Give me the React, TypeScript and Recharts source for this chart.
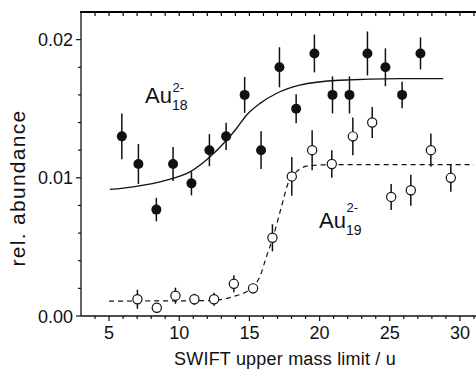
import { ComposedChart, Scatter, Line, XAxis, YAxis, ErrorBar } from 'recharts'

const FONT = "Arial, 'Liberation Sans', Helvetica, sans-serif"
const INK = '#111'

// plot box (chart width 492, y-axis width 81, right margin 4, top margin 12)
const PLOT_TOP = 12
const PLOT_LEFT = 81
const PLOT_RIGHT = 488
const X_MIN = 3
const X_MAX = 32

// Au18(2-) measured points
const au18X = [5.91, 7.09, 8.37, 9.56, 10.87, 12.15, 13.34, 14.66, 15.83, 17.14, 18.33, 19.63, 20.92, 22.13, 23.41, 24.69, 25.88, 27.19]
const au18Y = [0.013, 0.011, 0.0077, 0.011, 0.0096, 0.012, 0.013, 0.016, 0.012, 0.018, 0.015, 0.019, 0.016, 0.016, 0.019, 0.018, 0.016, 0.019]
const au18Err = [0.00166, 0.00145, 0.00085, 0.00123, 0.00087, 0.00116, 0.00099, 0.0013, 0.00137, 0.00145, 0.00105, 0.00137, 0.00134, 0.00134, 0.00159, 0.00137, 0.00096, 0.00116]

// Au19(2-) measured points
const au19X = [7.02, 8.4, 9.73, 11.08, 12.48, 13.89, 15.26, 16.64, 18.02, 19.47, 20.87, 22.37, 23.75, 25.1, 26.5, 27.93, 29.35]
const au19Y = [0.00121, 0.0006, 0.00147, 0.00121, 0.00121, 0.00233, 0.002, 0.00566, 0.0101, 0.012, 0.011, 0.013, 0.014, 0.00862, 0.0091, 0.012, 0.01]
const au19Err = [0.00069, 0.0003, 0.00058, 0.0004, 0.00047, 0.00061, 0.00036, 0.00098, 0.0014, 0.00145, 0.001, 0.00137, 0.00112, 0.00094, 0.00112, 0.0012, 0.001]

// fit curves
const fit18X = [5.05, 6.73, 9.1, 10.76, 12.18, 13.37, 14.08, 14.79, 15.73, 16.92, 18.58, 21.43, 25.7, 28.81]
const fit18Y = [0.00916, 0.00935, 0.00983, 0.01043, 0.01151, 0.01272, 0.01357, 0.01453, 0.01537, 0.0161, 0.0167, 0.01706, 0.01718, 0.01718]
const fit19X = [5.0, 11.96, 13.83, 15.26, 15.74, 16.21, 16.68, 17.28, 17.75, 18.34, 19.29, 20.95, 31.0]
const fit19Y = [0.00108, 0.00111, 0.0014, 0.00212, 0.00284, 0.00429, 0.00569, 0.0079, 0.00959, 0.01043, 0.01088, 0.01095, 0.01095]

// ticks
const xMajor = [5, 10, 15, 20, 25, 30]
const xMinor = [4, 5, 6, 7, 8, 9, 10, 11, 12, 13, 14, 15, 16, 17, 18, 19, 20, 21, 22, 23, 24, 25, 26, 27, 28, 29, 30, 31]
const yTicks = [0, 0.002, 0.004, 0.006, 0.008, 0.01, 0.012, 0.014, 0.016, 0.018, 0.02]
const yMajor = [0, 0.01, 0.02]
const yMax = 0.022

const au18 = au18X.map((x, i) => ({ x, y: au18Y[i], err: au18Err[i] }))
const au19 = au19X.map((x, i) => ({ x, y: au19Y[i], err: au19Err[i] }))
const fit18 = fit18X.map((x, i) => ({ x, y: fit18Y[i] }))
const fit19 = fit19X.map((x, i) => ({ x, y: fit19Y[i] }))

// same linear map as the chart's x axis, only for the top frame ticks
const topTickX = (v: number) => PLOT_LEFT + ((v - X_MIN) * (PLOT_RIGHT - PLOT_LEFT)) / (X_MAX - X_MIN)

const BottomTick = (props: any) => {
  const { x, y, payload } = props
  const major = xMajor.includes(payload.value)
  return (
    <g>
      <line x1={x} x2={x} y1={y} y2={y + (major ? 5 : 3)} stroke={INK} strokeWidth={1.2} />
      {major && (
        <text x={x} y={y + 23} textAnchor="middle" fontSize={18} fontFamily={FONT} fill={INK}>
          {payload.value}
        </text>
      )}
    </g>
  )
}

const LeftTick = (props: any) => {
  const { x, y, payload } = props
  const major = yMajor.some(v => Math.abs(v - payload.value) < 1e-9)
  return (
    <g>
      <line x1={x - (major ? 5 : 3)} x2={x} y1={y} y2={y} stroke={INK} strokeWidth={1.2} />
      {major && (
        <text x={x - 8} y={y + 6.5} textAnchor="end" fontSize={18} fontFamily={FONT} fill={INK}>
          {payload.value.toFixed(2)}
        </text>
      )}
    </g>
  )
}

const FilledDot = (props: any) => <circle cx={props.cx} cy={props.cy} r={5} fill={INK} />
const OpenDot = (props: any) => (
  <circle cx={props.cx} cy={props.cy} r={4.6} fill="#fff" stroke={INK} strokeWidth={1.2} />
)

export default function App() {
  return (
    <div style={{ position: 'absolute', left: 0, top: 0, width: 476, height: 370, overflow: 'hidden', background: '#fff' }}>
      <ComposedChart width={492} height={370} margin={{ top: PLOT_TOP, right: 4, bottom: 0, left: 0 }}>
        <XAxis
          dataKey="x"
          type="number"
          domain={[X_MIN, X_MAX]}
          allowDataOverflow
          ticks={xMinor}
          interval={0}
          height={54}
          tickSize={0}
          tickMargin={0}
          tickLine={false}
          tick={BottomTick}
          axisLine={{ stroke: INK, strokeWidth: 1.3 }}
        />
        <YAxis
          type="number"
          domain={[0, yMax]}
          allowDataOverflow
          ticks={yTicks}
          interval={0}
          width={PLOT_LEFT}
          tickSize={0}
          tickMargin={0}
          tickLine={false}
          tick={LeftTick}
          axisLine={{ stroke: INK, strokeWidth: 1.3 }}
        />
        {/* fit curves */}
        <Line data={fit18} dataKey="y" type="monotone" stroke={INK} strokeWidth={1.3} dot={false} isAnimationActive={false} />
        <Line
          data={fit19}
          dataKey="y"
          type="monotone"
          stroke={INK}
          strokeWidth={1.2}
          strokeDasharray="5 4"
          dot={false}
          isAnimationActive={false}
        />
        <Scatter data={au18} dataKey="y" shape={FilledDot} isAnimationActive={false}>
          <ErrorBar dataKey="err" direction="y" width={0} stroke={INK} strokeWidth={1.5} />
        </Scatter>
        <Scatter data={au19} dataKey="y" shape={OpenDot} isAnimationActive={false}>
          <ErrorBar dataKey="err" direction="y" width={0} stroke={INK} strokeWidth={1.5} />
        </Scatter>
      </ComposedChart>
      <svg width={476} height={370} style={{ position: 'absolute', left: 0, top: 0, pointerEvents: 'none' }}>
        {/* top frame with inward ticks */}
        <rect x={PLOT_LEFT - 1} y={PLOT_TOP - 1} width={476 - PLOT_LEFT + 1} height={2} fill="#000" />
        {xMinor.map(v => (
          <line key={v} x1={topTickX(v)} x2={topTickX(v)} y1={PLOT_TOP} y2={PLOT_TOP + 4} stroke="#000" strokeWidth={1.2} />
        ))}
        <g fontFamily={FONT} fill={INK}>
          <text x={25} y={188} transform="rotate(-90, 25, 188)" textAnchor="middle" fontSize={21} letterSpacing={1.3}>
            rel. abundance
          </text>
          <text x={285} y={365} textAnchor="middle" fontSize={18} letterSpacing={0.2}>
            SWIFT upper mass limit / u
          </text>
          <text x={145} y={103} fontSize={22}>Au</text>
          <text x={172} y={109.5} fontSize={14}>18</text>
          <text x={172.5} y={92} fontSize={13}>2-</text>
          <text x={319} y={228.3} fontSize={22}>Au</text>
          <text x={346} y={234.5} fontSize={14}>19</text>
          <text x={346.5} y={211.7} fontSize={13}>2-</text>
        </g>
      </svg>
    </div>
  )
}
